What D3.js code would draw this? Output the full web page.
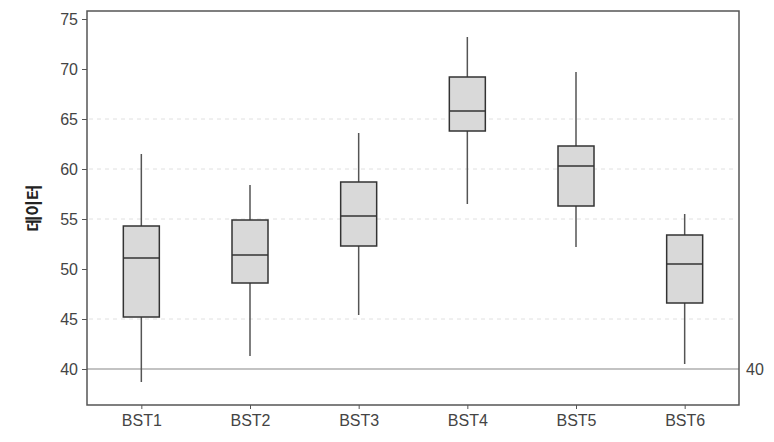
<!DOCTYPE html>
<html>
<head>
<meta charset="utf-8">
<script src="https://cdn.jsdelivr.net/npm/d3@7"></script>
<style>
  body { margin: 0; background: #fff; }
  text { font-family: "Liberation Sans", Arial, sans-serif; }
</style>
</head>
<body>
<div id="chart"></div>
<script>
// Data
const categories = ["BST1", "BST2", "BST3", "BST4", "BST5", "BST6"];
const whiskerLow = [38.7, 41.3, 45.4, 56.5, 52.2, 40.5];
const q1 = [45.2, 48.6, 52.3, 63.8, 56.3, 46.6];
const median = [51.1, 51.4, 55.3, 65.8, 60.3, 50.5];
const q3 = [54.3, 54.9, 58.7, 69.2, 62.3, 53.4];
const whiskerHigh = [61.5, 58.4, 63.6, 73.2, 69.7, 55.5];
const yTicks = [40, 45, 50, 55, 60, 65, 70, 75];
const gridValues = [45, 55, 60, 65];
const refValue = 40;

const boxes = categories.map((c, i) => ({
  name: c, lo: whiskerLow[i], q1: q1[i], med: median[i], q3: q3[i], hi: whiskerHigh[i]
}));

const width = 774, height = 442;
const margin = { top: 11, right: 35, bottom: 37, left: 87 };
const innerW = width - margin.left - margin.right;
const innerH = height - margin.top - margin.bottom;

const svg = d3.select("#chart").append("svg")
  .attr("width", width)
  .attr("height", height);

const g = svg.append("g")
  .attr("transform", `translate(${margin.left},${margin.top})`);

const x = d3.scalePoint().domain(categories).range([0, innerW]).padding(0.5);
const y = d3.scaleLinear().domain([36.4, 75.8]).range([innerH, 0]);

// Gridlines
g.selectAll(".grid")
  .data(gridValues)
  .enter().append("line")
    .attr("x1", 2).attr("x2", innerW - 2)
    .attr("y1", d => y(d)).attr("y2", d => y(d))
    .attr("stroke", "#e0e0e0")
    .attr("stroke-width", 1)
    .attr("stroke-dasharray", "4,4");

// Reference line
g.append("line")
  .attr("x1", 0).attr("x2", innerW)
  .attr("y1", y(refValue)).attr("y2", y(refValue))
  .attr("stroke", "#888")
  .attr("stroke-width", 1.2);

g.append("text")
  .attr("x", innerW + 7)
  .attr("y", y(refValue))
  .attr("dy", "0.35em")
  .attr("font-size", 16)
  .attr("fill", "#444")
  .text(refValue);

// Boxes
const boxW = 36;
const bx = g.selectAll(".box")
  .data(boxes)
  .enter().append("g")
    .attr("transform", d => `translate(${x(d.name)},0)`);

bx.append("line")
  .attr("y1", d => y(d.hi)).attr("y2", d => y(d.q3))
  .attr("stroke", "#555").attr("stroke-width", 1.5);

bx.append("line")
  .attr("y1", d => y(d.q1)).attr("y2", d => y(d.lo))
  .attr("stroke", "#555").attr("stroke-width", 1.5);

bx.append("rect")
  .attr("x", -boxW / 2)
  .attr("width", boxW)
  .attr("y", d => y(d.q3))
  .attr("height", d => y(d.q1) - y(d.q3))
  .attr("fill", "#d9d9d9")
  .attr("stroke", "#333")
  .attr("stroke-width", 1.5);

bx.append("line")
  .attr("x1", -boxW / 2).attr("x2", boxW / 2)
  .attr("y1", d => y(d.med)).attr("y2", d => y(d.med))
  .attr("stroke", "#333").attr("stroke-width", 1.5);

// Axes
const yAxis = g.append("g")
  .call(d3.axisLeft(y).tickValues(yTicks).tickSize(5).tickPadding(4));
const xAxis = g.append("g")
  .attr("transform", `translate(0,${innerH})`)
  .call(d3.axisBottom(x).tickSize(4).tickPadding(6));

[yAxis, xAxis].forEach(a => {
  a.select(".domain").remove();
  a.selectAll("line").attr("stroke", "#555");
  a.selectAll("text").attr("font-size", 16).attr("fill", "#444")
    .attr("font-family", "Liberation Sans, Arial, sans-serif");
});

// Frame
g.append("rect")
  .attr("width", innerW).attr("height", innerH)
  .attr("fill", "none")
  .attr("stroke", "#555")
  .attr("stroke-width", 1.5);

// Y label
svg.append("text")
  .attr("transform", `translate(40,${margin.top + innerH / 2}) rotate(-90)`)
  .attr("text-anchor", "middle")
  .attr("font-size", 17)
  .attr("font-weight", "bold")
  .attr("fill", "#222")
  .style("font-family", "'Noto Sans CJK KR', sans-serif")
  .text("데이터");
</script>
</body>
</html>
